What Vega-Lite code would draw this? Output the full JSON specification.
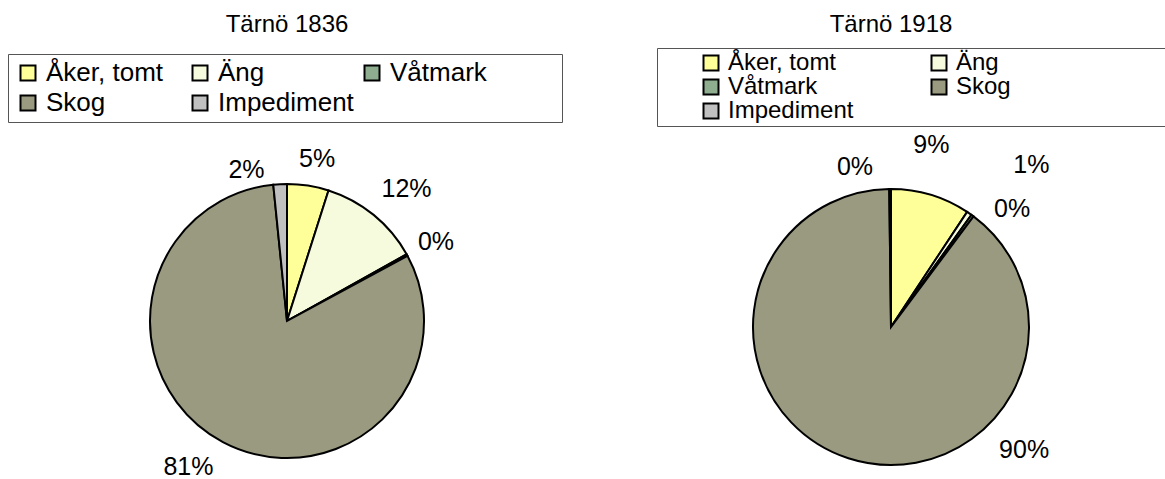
{
  "$schema": "https://vega.github.io/schema/vega-lite/v6.json",
  "padding": {"left": 0, "top": 12, "right": 0, "bottom": 0},
  "spacing": 0,
  "config": {
    "view": {"stroke": null},
    "font": "Liberation Sans",
    "title": {"font": "Liberation Sans", "fontSize": 24, "fontWeight": "normal", "color": "black", "anchor": "middle", "frame": "group"}
  },
  "resolve": {"scale": {"color": "independent", "theta": "independent"}, "legend": {"color": "independent"}},
  "hconcat": [
    {
      "title": {"text": "Tärnö 1836", "offset": 17},
      "width": 574,
      "height": 320,
      "data": {"values": [
        {"cat": "Åker, tomt", "share": 0.049, "i": 1},
        {"cat": "Äng", "share": 0.12, "i": 2},
        {"cat": "Våtmark", "share": 0.002, "i": 3},
        {"cat": "Skog", "share": 0.813, "i": 4},
        {"cat": "Impediment", "share": 0.016, "i": 5}
      ]},
      "encoding": {
        "theta": {"field": "share", "type": "quantitative", "stack": true},
        "order": {"field": "i", "type": "quantitative"}
      },
      "layer": [
        {
          "mark": {"type": "arc", "outerRadius": 137, "stroke": "black", "strokeWidth": 2},
          "encoding": {
            "color": {
              "field": "cat", "type": "nominal",
              "scale": {"domain": ["Åker, tomt", "Äng", "Våtmark", "Skog", "Impediment"], "range": ["#FFFF99", "#F7FBDD", "#8FAE8F", "#9A9A80", "#C0C0C0"]},
              "legend": {
                "orient": "none", "legendX": 8, "legendY": -107, "direction": "horizontal",
                "columns": 3, "gridAlign": "all", "columnPadding": 4, "rowPadding": 4, "padding": 6,
                "symbolType": "square", "symbolSize": 225, "symbolStrokeColor": "black", "symbolStrokeWidth": 2, "symbolOffset": 1,
                "labelFontSize": 26, "labelFont": "Liberation Sans", "labelColor": "black", "labelOffset": 5, "labelLimit": 400,
                "strokeColor": "#555555", "fillColor": "white",
                "title": " ", "titleOrient": "right", "titlePadding": 69, "titleFontSize": 1
              }
            }
          }
        },
        {
          "mark": {"type": "text", "radius": 170, "fontSize": 25, "font": "Liberation Sans", "color": "black", "dx": 4, "dy": 6},
          "encoding": {"text": {"condition": {"test": "datum.cat === 'Åker, tomt'", "field": "share", "type": "quantitative", "format": ".0%"}, "value": ""}}
        },
        {
          "mark": {"type": "text", "radius": 170, "fontSize": 25, "font": "Liberation Sans", "color": "black", "dx": 0, "dy": 3},
          "encoding": {"text": {"condition": {"test": "datum.cat === 'Våtmark'", "field": "share", "type": "quantitative", "format": ".0%"}, "value": ""}}
        },
        {
          "mark": {"type": "text", "radius": 170, "fontSize": 25, "font": "Liberation Sans", "color": "black", "dx": 12, "dy": 0},
          "encoding": {"text": {"condition": {"test": "datum.cat === 'Äng'", "field": "share", "type": "quantitative", "format": ".0%"}, "value": ""}}
        },
        {
          "mark": {"type": "text", "radius": 170, "fontSize": 25, "font": "Liberation Sans", "color": "black", "dx": -19, "dy": -4},
          "encoding": {"text": {"condition": {"test": "datum.cat === 'Skog'", "field": "share", "type": "quantitative", "format": ".0%"}, "value": ""}}
        },
        {
          "mark": {"type": "text", "radius": 170, "fontSize": 25, "font": "Liberation Sans", "color": "black", "dx": -32, "dy": 19},
          "encoding": {"text": {"condition": {"test": "datum.cat === 'Impediment'", "field": "share", "type": "quantitative", "format": ".0%"}, "value": ""}}
        }
      ]
    },
    {
      "title": {"text": "Tärnö 1918", "offset": 11},
      "width": 634,
      "height": 332,
      "data": {"values": [
        {"cat": "Åker, tomt", "share": 0.093, "i": 1},
        {"cat": "Äng", "share": 0.006, "i": 2},
        {"cat": "Våtmark", "share": 0.003, "i": 3},
        {"cat": "Skog", "share": 0.896, "i": 4},
        {"cat": "Impediment", "share": 0.002, "i": 5}
      ]},
      "encoding": {
        "theta": {"field": "share", "type": "quantitative", "stack": true},
        "order": {"field": "i", "type": "quantitative"}
      },
      "layer": [
        {
          "mark": {"type": "arc", "outerRadius": 138, "stroke": "black", "strokeWidth": 2},
          "encoding": {
            "color": {
              "field": "cat", "type": "nominal",
              "scale": {"domain": ["Åker, tomt", "Äng", "Våtmark", "Skog", "Impediment"], "range": ["#FFFF99", "#F7FBDD", "#8FAE8F", "#9A9A80", "#C0C0C0"]},
              "legend": {
                "orient": "none", "legendX": 83, "legendY": -113, "direction": "horizontal",
                "columns": 2, "gridAlign": "all", "columnPadding": 34, "rowPadding": 0, "padding": 3,
                "symbolType": "square", "symbolSize": 225, "symbolStrokeColor": "black", "symbolStrokeWidth": 2, "symbolOffset": 39,
                "labelFontSize": 24, "labelFont": "Liberation Sans", "labelColor": "black", "labelOffset": 5, "labelLimit": 400,
                "strokeColor": "#555555", "fillColor": "white",
                "title": " ", "titleOrient": "right", "titlePadding": 160, "titleFontSize": 1
              }
            }
          }
        },
        {
          "mark": {"type": "text", "radius": 168, "fontSize": 25, "font": "Liberation Sans", "color": "black", "dx": -8, "dy": -21},
          "encoding": {"text": {"condition": {"test": "datum.cat === 'Åker, tomt'", "field": "share", "type": "quantitative", "format": ".0%"}, "value": ""}}
        },
        {
          "mark": {"type": "text", "radius": 168, "fontSize": 25, "font": "Liberation Sans", "color": "black", "dx": 45, "dy": -24},
          "encoding": {"text": {"condition": {"test": "datum.cat === 'Äng'", "field": "share", "type": "quantitative", "format": ".0%"}, "value": ""}}
        },
        {
          "mark": {"type": "text", "radius": 168, "fontSize": 25, "font": "Liberation Sans", "color": "black", "dx": 22, "dy": 18},
          "encoding": {"text": {"condition": {"test": "datum.cat === 'Våtmark'", "field": "share", "type": "quantitative", "format": ".0%"}, "value": ""}}
        },
        {
          "mark": {"type": "text", "radius": 168, "fontSize": 25, "font": "Liberation Sans", "color": "black", "dx": 185, "dy": -37},
          "encoding": {"text": {"condition": {"test": "datum.cat === 'Skog'", "field": "share", "type": "quantitative", "format": ".0%"}, "value": ""}}
        },
        {
          "mark": {"type": "text", "radius": 168, "fontSize": 25, "font": "Liberation Sans", "color": "black", "dx": -35, "dy": 8},
          "encoding": {"text": {"condition": {"test": "datum.cat === 'Impediment'", "field": "share", "type": "quantitative", "format": ".0%"}, "value": ""}}
        }
      ]
    }
  ]
}
